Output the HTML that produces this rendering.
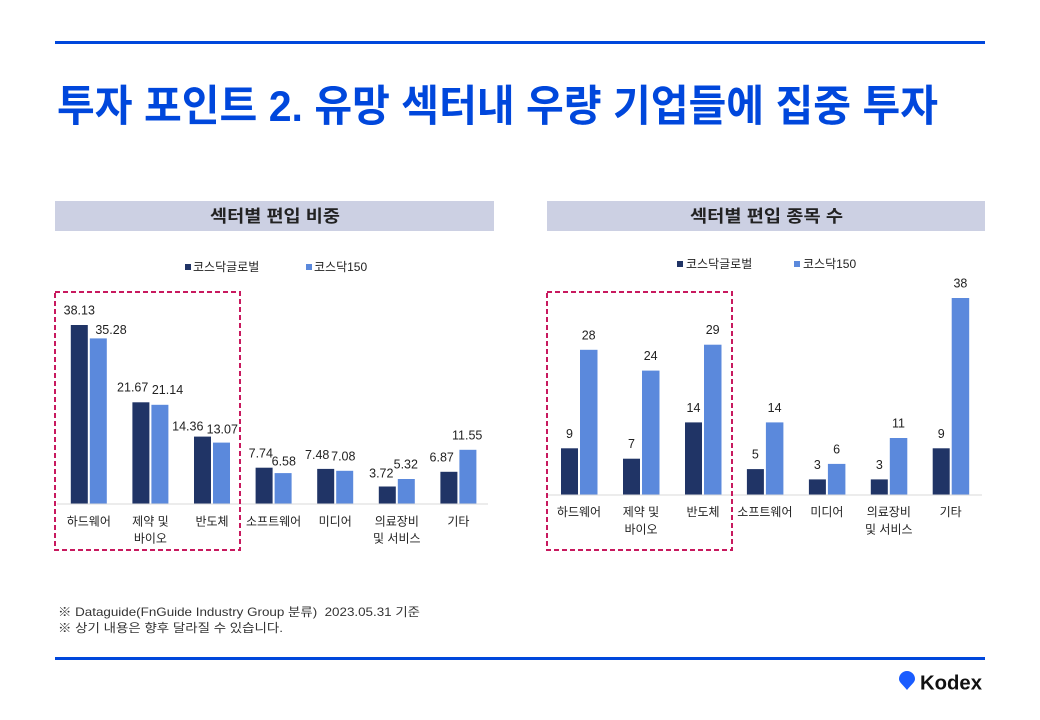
<!DOCTYPE html>
<html><head><meta charset="utf-8"><style>
html,body{margin:0;padding:0;background:#fff;}
svg{display:block;}
.k{font-family:"Liberation Sans","Noto Sans CJK KR",sans-serif;}
</style></head><body>
<svg width="1040" height="720" viewBox="0 0 1040 720" xmlns="http://www.w3.org/2000/svg" class="k">
<rect x="0" y="0" width="1040" height="720" fill="#fff"/>
<rect x="55" y="41" width="930" height="3" fill="#0047dc"/>
<text x="57" y="121" font-size="43" font-weight="bold" fill="#0047dc" textLength="881" lengthAdjust="spacingAndGlyphs">투자 포인트 2. 유망 섹터내 우량 기업들에 집중 투자</text>

<!-- LEFT CHART -->
<rect x="55" y="201" width="439" height="30" fill="#ccd0e3"/>
<text x="210" y="222" font-size="17" font-weight="bold" fill="#222" textLength="130" lengthAdjust="spacingAndGlyphs">섹터별 편입 비중</text>
<rect x="185" y="264" width="6" height="6" fill="#203466"/>
<text x="193" y="271" font-size="12" fill="#222">코스닥글로벌</text>
<rect x="306" y="264" width="6" height="6" fill="#5b89dc"/>
<text x="314" y="271" font-size="12" fill="#222">코스닥150</text>

<g>
<rect x="70.8" y="325.0" width="17" height="179.0" fill="#203466"/>
<rect x="89.8" y="338.4" width="17" height="165.6" fill="#5b89dc"/>
<rect x="132.4" y="402.3" width="17" height="101.7" fill="#203466"/>
<rect x="151.4" y="404.8" width="17" height="99.2" fill="#5b89dc"/>
<rect x="194" y="436.6" width="17" height="67.4" fill="#203466"/>
<rect x="213" y="442.6" width="17" height="61.4" fill="#5b89dc"/>
<rect x="255.6" y="467.7" width="17" height="36.3" fill="#203466"/>
<rect x="274.6" y="473.1" width="17" height="30.9" fill="#5b89dc"/>
<rect x="317.2" y="468.9" width="17" height="35.1" fill="#203466"/>
<rect x="336.2" y="470.8" width="17" height="33.2" fill="#5b89dc"/>
<rect x="378.8" y="486.5" width="17" height="17.5" fill="#203466"/>
<rect x="397.8" y="479.0" width="17" height="25.0" fill="#5b89dc"/>
<rect x="440.4" y="471.8" width="17" height="32.2" fill="#203466"/>
<rect x="459.4" y="449.8" width="17" height="54.2" fill="#5b89dc"/>
</g>
<rect x="57" y="503.5" width="431" height="1" fill="#d9d9d9"/>
<g font-size="12.5" fill="#222" text-anchor="middle">
<text x="79.3" y="314.5">38.13</text>
<text x="111" y="334">35.28</text>
<text x="132.7" y="391.7">21.67</text>
<text x="167.5" y="394">21.14</text>
<text x="187.8" y="430.7">14.36</text>
<text x="222.3" y="433.3">13.07</text>
<text x="260.8" y="457.7">7.74</text>
<text x="283.8" y="465.3">6.58</text>
<text x="317.2" y="459">7.48</text>
<text x="343.3" y="460.7">7.08</text>
<text x="381.3" y="477.3">3.72</text>
<text x="405.8" y="468.3">5.32</text>
<text x="441.7" y="461.7">6.87</text>
<text x="467.2" y="439.3">11.55</text>
</g>
<g font-size="12" fill="#222" text-anchor="middle">
<text x="88.8" y="525.5">하드웨어</text>
<text x="150.4" y="525.5">제약 및</text>
<text x="150.4" y="542.5">바이오</text>
<text x="212" y="525.5">반도체</text>
<text x="273.6" y="525.5">소프트웨어</text>
<text x="335.2" y="525.5">미디어</text>
<text x="396.8" y="525.5">의료장비</text>
<text x="396.8" y="542.5">및 서비스</text>
<text x="458.4" y="525.5">기타</text>
</g>
<rect x="55" y="292" width="185" height="258" fill="none" stroke="#c8195e" stroke-width="2" stroke-dasharray="5,3"/>

<!-- RIGHT CHART -->
<rect x="547" y="201" width="438" height="30" fill="#ccd0e3"/>
<text x="690" y="222" font-size="17" font-weight="bold" fill="#222" textLength="153" lengthAdjust="spacingAndGlyphs">섹터별 편입 종목 수</text>
<rect x="677" y="261" width="6" height="6" fill="#203466"/>
<text x="686" y="268" font-size="12" fill="#222">코스닥글로벌</text>
<rect x="794" y="261" width="6" height="6" fill="#5b89dc"/>
<text x="803" y="268" font-size="12" fill="#222">코스닥150</text>

<g>
<rect x="561" y="448.3" width="17" height="46.7" fill="#203466"/>
<rect x="580" y="349.8" width="17.5" height="145.2" fill="#5b89dc"/>
<rect x="623" y="458.7" width="17" height="36.3" fill="#203466"/>
<rect x="642" y="370.6" width="17.5" height="124.4" fill="#5b89dc"/>
<rect x="685" y="422.4" width="17" height="72.6" fill="#203466"/>
<rect x="704" y="344.7" width="17.5" height="150.3" fill="#5b89dc"/>
<rect x="746.9" y="469.1" width="17" height="25.9" fill="#203466"/>
<rect x="765.9" y="422.4" width="17.5" height="72.6" fill="#5b89dc"/>
<rect x="808.9" y="479.4" width="17" height="15.6" fill="#203466"/>
<rect x="827.9" y="463.9" width="17.5" height="31.1" fill="#5b89dc"/>
<rect x="870.8" y="479.4" width="17" height="15.6" fill="#203466"/>
<rect x="889.8" y="438" width="17.5" height="57" fill="#5b89dc"/>
<rect x="932.7" y="448.3" width="17" height="46.7" fill="#203466"/>
<rect x="951.7" y="298" width="17.5" height="197" fill="#5b89dc"/>
</g>
<rect x="548" y="494.5" width="434" height="1" fill="#d9d9d9"/>
<g font-size="12.5" fill="#222" text-anchor="middle">
<text x="569.5" y="437.8">9</text>
<text x="588.7" y="339.3">28</text>
<text x="631.5" y="448.2">7</text>
<text x="650.7" y="360.1">24</text>
<text x="693.5" y="411.9">14</text>
<text x="712.7" y="334.2">29</text>
<text x="755.4" y="458.6">5</text>
<text x="774.6" y="411.9">14</text>
<text x="817.4" y="468.9">3</text>
<text x="836.6" y="453.4">6</text>
<text x="879.3" y="468.9">3</text>
<text x="898.5" y="427.5">11</text>
<text x="941.2" y="437.8">9</text>
<text x="960.4" y="287.5">38</text>
</g>
<g font-size="12" fill="#222" text-anchor="middle">
<text x="579" y="516">하드웨어</text>
<text x="641" y="516">제약 및</text>
<text x="641" y="533.7">바이오</text>
<text x="703" y="516">반도체</text>
<text x="764.9" y="516">소프트웨어</text>
<text x="826.9" y="516">미디어</text>
<text x="888.8" y="516">의료장비</text>
<text x="888.8" y="533.7">및 서비스</text>
<text x="950.7" y="516">기타</text>
</g>
<rect x="547" y="292" width="185" height="258" fill="none" stroke="#c8195e" stroke-width="2" stroke-dasharray="5,3"/>

<!-- FOOTNOTES -->
<text x="58" y="616" font-size="12" fill="#333" textLength="362" lengthAdjust="spacingAndGlyphs" xml:space="preserve">※ Dataguide(FnGuide Industry Group 분류)  2023.05.31 기준</text>
<text x="58" y="632" font-size="12" fill="#333" textLength="225" lengthAdjust="spacingAndGlyphs">※ 상기 내용은 향후 달라질 수 있습니다.</text>

<rect x="55" y="657" width="930" height="3" fill="#0047dc"/>
<path d="M907 690 C902 684 899 682 899 679 A8 8 0 1 1 915 679 C915 682 912 684 907 690Z" fill="#1a5cff"/>
<text x="920" y="689.5" font-size="20" font-weight="bold" fill="#111" textLength="62" lengthAdjust="spacingAndGlyphs">Kodex</text>
</svg>
</body></html>
